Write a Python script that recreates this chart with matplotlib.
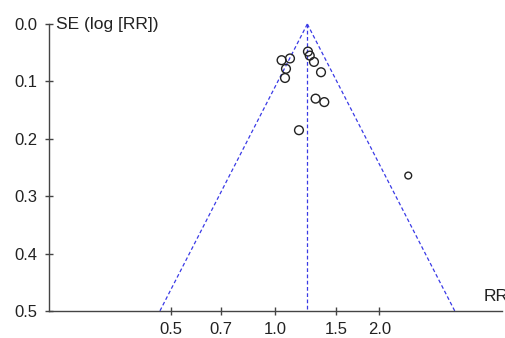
import numpy as np
import matplotlib
matplotlib.use("Agg")
import matplotlib.pyplot as plt

# study estimates
rr = [1.045, 1.105, 1.076, 1.069, 1.245, 1.26, 1.296, 1.358, 1.31, 1.388, 1.173, 2.425]
se = [0.063, 0.060, 0.078, 0.094, 0.048, 0.055, 0.066, 0.084, 0.130, 0.136, 0.185, 0.264]
pooled_rr = 1.24

x_ticks = [0.5, 0.7, 1.0, 1.5, 2.0]
x_labels = ["0.5", "0.7", "1.0", "1.5", "2.0"]
y_ticks = [0.0, 0.1, 0.2, 0.3, 0.4, 0.5]
y_labels = ["0.0", "0.1", "0.2", "0.3", "0.4", "0.5"]

plt.rcParams['font.family'] = ['Liberation Sans', 'DejaVu Sans']

fig = plt.figure(figsize=(5.06, 3.38), dpi=100)
ax = fig.add_axes([0.0968, 0.0799, 0.895, 0.849])

axis_col = '#444444'
line_col = '#3a3ae6'

# funnel (pseudo 95% limits)
se_max = 0.5
se_line = np.array([0.0, se_max])
ax.plot(pooled_rr * np.exp(-1.96 * se_line), se_line, color=line_col, lw=0.9,
        dashes=(3, 2), clip_on=False)
ax.plot(pooled_rr * np.exp(1.96 * se_line), se_line, color=line_col, lw=0.9,
        dashes=(3, 2), clip_on=False)
ax.plot([pooled_rr, pooled_rr], [0.0, se_max], color=line_col, lw=0.9,
        dashes=(3, 2), clip_on=False)

# last study drawn with a smaller circle, as in the original
marker_sizes = [40] * (len(rr) - 1) + [24]
ax.scatter(rr, se, s=marker_sizes, facecolors='none', edgecolors='#222222',
           linewidths=1.0, zorder=3, clip_on=False)

ax.set_xscale('log')
ax.set_xlim(np.exp(-1.502), np.exp(1.508))
ax.set_ylim(0.5, 0.0)

ax.set_xticks(x_ticks)
ax.set_xticklabels(x_labels)
ax.xaxis.set_minor_locator(matplotlib.ticker.NullLocator())
ax.set_yticks(y_ticks)
ax.set_yticklabels(y_labels)

for side in ['top', 'right']:
    ax.spines[side].set_visible(False)
for side in ['left', 'bottom']:
    ax.spines[side].set_color(axis_col)
    ax.spines[side].set_linewidth(1.0)

ax.tick_params(axis='both', direction='inout', length=6, width=1.0,
               color=axis_col, labelsize=12, labelcolor='#222222')
ax.tick_params(axis='y', pad=5)
ax.tick_params(axis='x', pad=5)

ax.text(0.0155, 1.0, "SE (log [RR])", transform=ax.transAxes, fontsize=12.5,
        color='#222222', ha='left', va='center')
ax.text(0.959, 0.05, "RR", transform=ax.transAxes, fontsize=12.5,
        color='#222222', ha='left', va='center', clip_on=False)

fig.savefig("out.png", dpi=100)
